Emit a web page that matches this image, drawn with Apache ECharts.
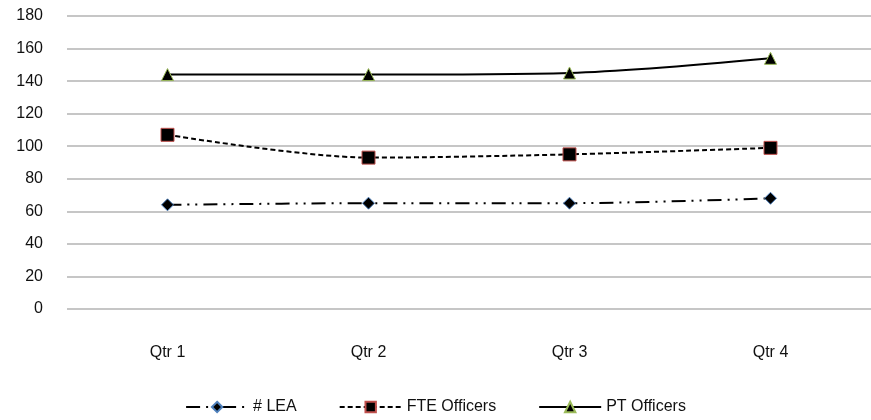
<!DOCTYPE html>
<html>
<head>
<meta charset="utf-8">
<script src="https://cdn.jsdelivr.net/npm/echarts@6/dist/echarts.min.js"></script>
<style>
  html, body { margin: 0; padding: 0; background: #fff; }
  #chart { width: 871px; height: 420px; }
</style>
</head>
<body>
<div id="chart"></div>
<script>
  // quarters and series values
  const quarters = ['Qtr 1', 'Qtr 2', 'Qtr 3', 'Qtr 4'];
  const leaCount = [64, 65, 65, 68];
  const fteOfficers = [107, 93, 95, 99];
  const ptOfficers = [144, 144, 145, 154];

  const myChart = echarts.init(document.getElementById('chart'));
  const font = 'Liberation Sans, Arial, sans-serif';

  const option = {
    animation: false,
    textStyle: { fontFamily: font },
    grid: { left: 67, right: 0, top: 16, bottom: 111 },
    legend: {
      bottom: 0,
      left: 'center',
      itemGap: 42,
      itemWidth: 62,
      itemHeight: 13,
      textStyle: { color: '#111', fontSize: 16, fontFamily: font },
      data: ['# LEA', 'FTE Officers', 'PT Officers']
    },
    xAxis: {
      type: 'category',
      data: quarters,
      axisLine: { show: false },
      axisTick: { show: false },
      axisLabel: { color: '#111', fontSize: 16, margin: 36, fontFamily: font }
    },
    yAxis: {
      type: 'value',
      min: 0,
      max: 180,
      interval: 20,
      axisLine: { show: false },
      axisTick: { show: false },
      axisLabel: { color: '#111', fontSize: 16, margin: 24, fontFamily: font },
      splitLine: { lineStyle: { color: '#b3b3b3', width: 1.5 } }
    },
    series: [
      {
        name: '# LEA',
        type: 'line',
        data: leaCount,
        smooth: 0.3,
        symbol: 'diamond',
        symbolSize: 12,
        itemStyle: { color: '#000', borderColor: '#4f81bd', borderWidth: 1 },
        lineStyle: { color: '#000', width: 2, type: [14, 6, 2, 6, 2, 6] }
      },
      {
        name: 'FTE Officers',
        type: 'line',
        data: fteOfficers,
        smooth: 0.3,
        symbol: 'rect',
        symbolSize: 13,
        itemStyle: { color: '#000', borderColor: '#c0504d', borderWidth: 1 },
        lineStyle: { color: '#000', width: 2, type: [5, 3] }
      },
      {
        name: 'PT Officers',
        type: 'line',
        data: ptOfficers,
        smooth: 0.3,
        symbol: 'triangle',
        symbolSize: 12,
        itemStyle: { color: '#000', borderColor: '#9bbb59', borderWidth: 1 },
        lineStyle: { color: '#000', width: 2 }
      }
    ]
  };

  myChart.setOption(option);
  window.addEventListener('resize', () => { myChart.resize(); });
</script>
</body>
</html>
